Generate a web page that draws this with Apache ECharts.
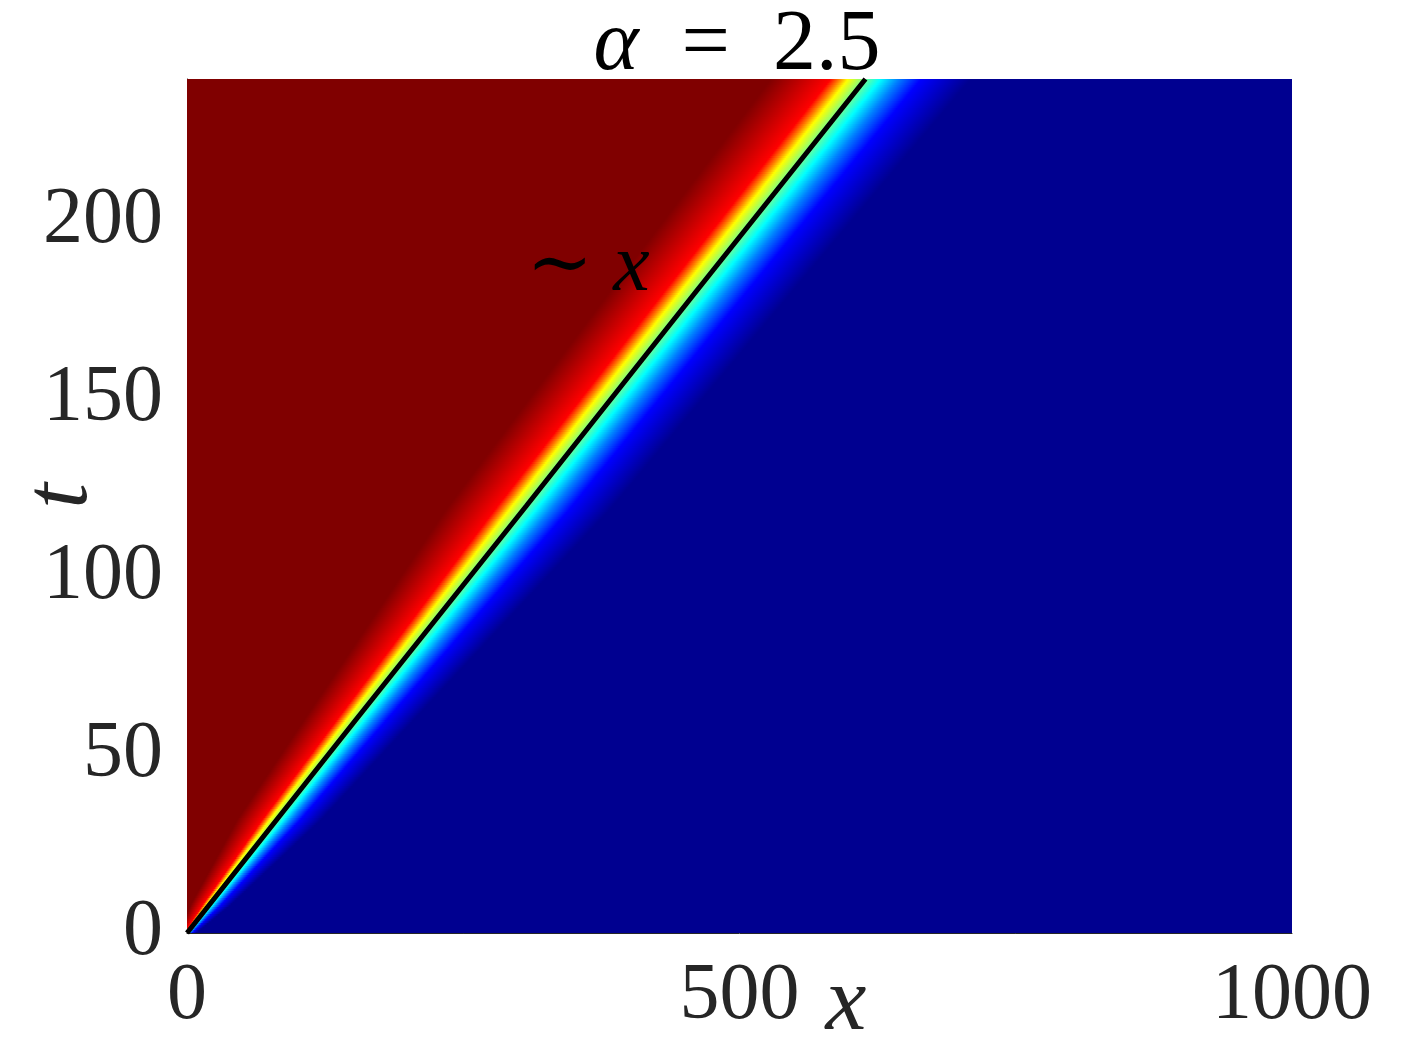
<!DOCTYPE html>
<html>
<head>
<meta charset="utf-8">
<title>alpha = 2.5</title>
<script src="https://cdn.jsdelivr.net/npm/echarts/dist/echarts.min.js"></script>
<style>
  html, body { margin: 0; padding: 0; background: #fff; }
  #main { width: 1428px; height: 1050px; }
</style>
</head>
<body>
<div id="main"></div>
<script>
// axis ranges and ticks
var xRange = [0, 1000];
var tRange = [0, 240];
var xTicks = 500;
var tTicks = 50;

// front position (black line)
var frontT = [0, 60, 120, 180, 240];
var frontX = [0, 153, 307, 460, 614];

// how wide the transition is at time t, relative to the top row
var widthT = [0, 8, 32, 119, 240];
var widthScale = [0.08, 0.2, 0.42, 0.82, 1.0];

// profile across the front at the top row: distance from front (x units) -> field value
var profileDist = [-86, -32, -23.5, -16, -2, 13.5, 30, 50, 95];
var profileVal = [1.0, 0.875, 0.75, 0.625, 0.5, 0.375, 0.25, 0.125, 0.0];

// jet colormap knots
var jetVal = [0, 0.125, 0.25, 0.375, 0.5, 0.625, 0.75, 0.875, 1];
var jetColor = ['#000090', '#0000ff', '#0080ff', '#00ffff', '#80ff80',
                '#ffff00', '#ff8000', '#ff0000', '#800000'];

var serif = '"Liberation Serif", "DejaVu Serif", serif';
var textGrey = '#262626';

function lerp(xs, ys, x) {
  if (x <= xs[0]) return ys[0];
  for (var i = 1; i < xs.length; i++) {
    if (x <= xs[i]) {
      var f = (x - xs[i - 1]) / (xs[i] - xs[i - 1]);
      return ys[i - 1] + f * (ys[i] - ys[i - 1]);
    }
  }
  return ys[ys.length - 1];
}

function jet(v) {
  for (var i = 0; i < jetVal.length; i++) {
    if (Math.abs(jetVal[i] - v) < 1e-6) return jetColor[i];
  }
  return jetColor[Math.round(v * 8)];
}

// gradient stops (fixed shape, stretched per row)
var dMin = profileDist[0], dMax = profileDist[profileDist.length - 1];
var stops = profileDist.map(function (d, i) {
  return { offset: (d - dMin) / (dMax - dMin), color: jet(profileVal[i]) };
});

// rows of the field
var rowStep = 0.5;
var rows = [];
for (var t = tRange[0]; t < tRange[1]; t += rowStep) {
  rows.push([t, t + rowStep]);
}

var frontLine = frontT.map(function (t, i) { return [frontX[i], t]; });

var chart = echarts.init(document.getElementById('main'), null, { renderer: 'canvas' });

var option = {
  animation: false,
  backgroundColor: '#ffffff',
  grid: { left: 187, right: 136, top: 79, bottom: 117, containLabel: false },
  xAxis: {
    type: 'value',
    min: xRange[0], max: xRange[1], interval: xTicks,
    axisLine: { show: true, onZero: false, lineStyle: { color: textGrey, width: 1 } },
    axisTick: { show: false },
    splitLine: { show: false },
    axisLabel: {
      fontFamily: serif, fontSize: 80, color: textGrey, margin: 24,
      formatter: function (v) { return String(v); }
    }
  },
  yAxis: {
    type: 'value',
    min: tRange[0], max: tRange[1], interval: tTicks,
    axisLine: { show: true, onZero: false, lineStyle: { color: textGrey, width: 1 } },
    axisTick: { show: false },
    splitLine: { show: false },
    axisLabel: {
      fontFamily: serif, fontSize: 80, color: textGrey, margin: 24, showMaxLabel: false,
      formatter: function (v) { return String(v); }
    }
  },
  graphic: [
    {
      type: 'text', x: 737, y: 46,
      style: {
        text: '{a|α}  =  2.5', align: 'center', verticalAlign: 'middle',
        font: '86px ' + serif, fill: '#000',
        rich: { a: { fontFamily: serif, fontSize: 86, fontStyle: 'italic', fill: '#000' } }
      },
      z: 100
    },
    {
      type: 'text', x: 588, y: 268,
      style: {
        text: '∼ {i|x}', align: 'center', verticalAlign: 'middle',
        font: '80px ' + serif, fill: '#000',
        rich: { i: { fontFamily: serif, fontSize: 82, fontStyle: 'italic', fill: '#000' } }
      },
      z: 100
    },
    {
      type: 'text', x: 846, y: 1005,
      style: {
        text: 'x', align: 'center', verticalAlign: 'middle',
        font: 'italic 92px ' + serif, fill: textGrey
      },
      z: 100
    },
    {
      type: 'text', x: 62, y: 496, rotation: Math.PI / 2,
      style: {
        text: 't', align: 'center', verticalAlign: 'middle',
        font: 'italic 92px ' + serif, fill: textGrey
      },
      z: 100
    }
  ],
  series: [
    {
      type: 'custom',
      clip: true,
      data: rows,
      silent: true,
      renderItem: function (params, api) {
        var t0 = api.value(0), t1 = api.value(1);
        var tm = (t0 + t1) / 2;
        var xf = lerp(frontT, frontX, tm);
        var s = lerp(widthT, widthScale, tm);
        var pTop = api.coord([xRange[0], t1]);
        var pBot = api.coord([xRange[1], t0]);
        var g0 = api.coord([xf + dMin * s, tm]);
        var g1 = api.coord([xf + dMax * s, tm]);
        return {
          type: 'rect',
          shape: {
            x: pTop[0], y: pTop[1] - 0.6,
            width: pBot[0] - pTop[0], height: pBot[1] - pTop[1] + 1.2
          },
          style: {
            fill: new echarts.graphic.LinearGradient(g0[0], 0, g1[0], 0, stops, true)
          }
        };
      },
      z: 1
    },
    {
      type: 'line',
      data: frontLine,
      symbol: 'none',
      silent: true,
      lineStyle: { color: '#000', width: 5 },
      z: 5
    }
  ]
};
chart.setOption(option);
</script>
</body>
</html>
